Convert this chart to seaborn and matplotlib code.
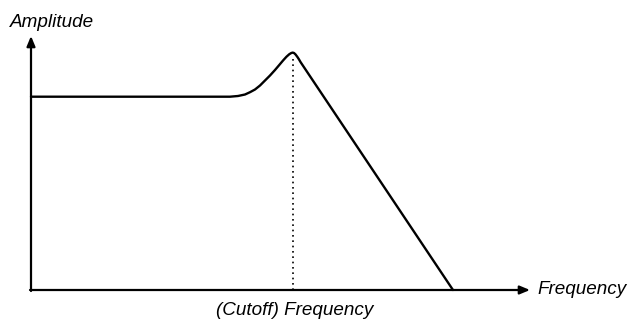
import numpy as np
import pandas as pd
import matplotlib
matplotlib.use("Agg")
import matplotlib.pyplot as plt
import seaborn as sns

# Low-pass filter response with resonance peak (schematic units)
freq = [0, 199, 207, 214, 219, 224, 229, 234, 239, 244, 248.5, 252.3, 255.5,
        258.3, 260.3, 261.7, 263, 264.5, 266.3, 268, 269.5, 422]
amplitude = [193.3, 193.3, 194, 195.5, 197.8, 200.5, 204.5, 209.5, 214.5, 220,
             225.3, 229.8, 233.3, 235.8, 237, 237.4, 237, 235.6, 233.2, 230.6,
             228, 0]
cutoff = 261.7
cutoff_amp = 237.4

x_axis_end = 499
y_axis_end = 254

x_label = "Frequency"
y_label = "Amplitude"
cutoff_label = "(Cutoff) Frequency"

sns.set_style("white")
plt.rcParams["font.family"] = ["Liberation Sans", "DejaVu Sans"]
plt.rcParams["text.color"] = "black"

df = pd.DataFrame({"freq": freq, "amp": amplitude})

fig = plt.figure(figsize=(6.3, 3.21), dpi=100)
ax = fig.add_axes([0, 0, 1, 1])
ax.set_xlim(-31, 599)
ax.set_ylim(-31, 290)
ax.axis("off")

sns.lineplot(data=df, x="freq", y="amp", color="black", linewidth=1.7, ax=ax)

# dotted marker at cutoff
ax.plot([cutoff, cutoff], [0, cutoff_amp - 5], color="black", lw=1.2,
        linestyle=(0, (1, 2.2)))

# axes with arrows
arrow = dict(arrowstyle="-|>,head_length=0.6,head_width=0.25", lw=1.6,
             color="black", shrinkA=0, shrinkB=0)
ax.annotate("", xy=(x_axis_end, 0), xytext=(-1, 0), arrowprops=arrow)
ax.annotate("", xy=(0, y_axis_end), xytext=(0, -1), arrowprops=arrow)

ax.text(-21, 263, y_label, fontsize=13.6, style="italic", va="baseline", ha="left")
ax.text(506, -3.5, x_label, fontsize=13.6, style="italic", va="baseline", ha="left")
ax.text(cutoff + 2, -25, cutoff_label, fontsize=13.6, style="italic",
        va="baseline", ha="center")

plt.savefig("out.png", dpi=100)
